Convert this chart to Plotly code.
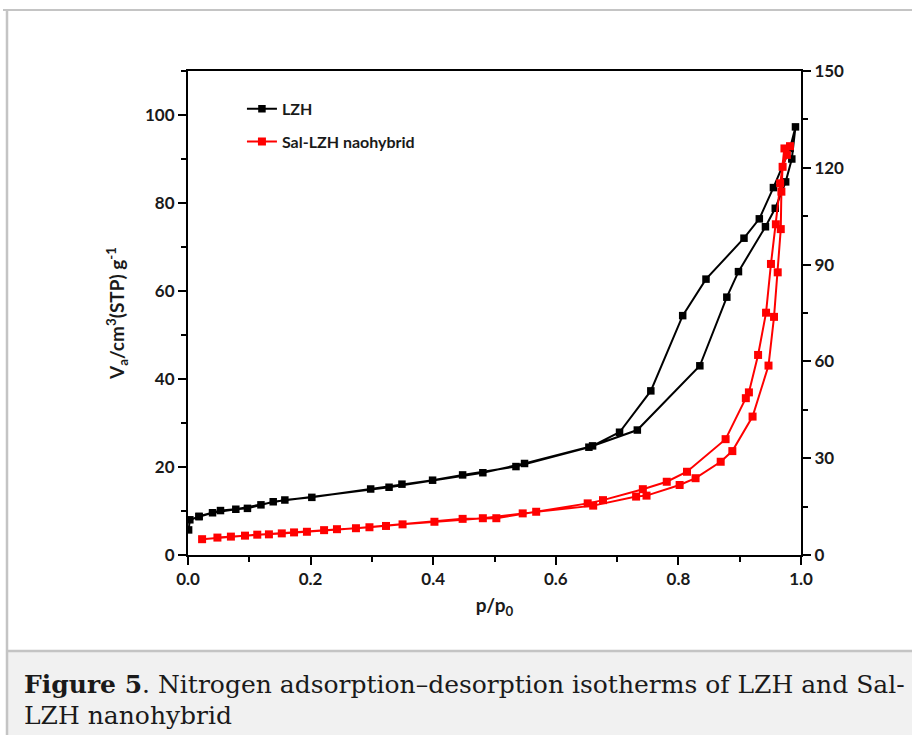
import plotly.graph_objects as go

# ---------------- data ----------------
# LZH (left axis)
lzh_ads_p = [0.001, 0.003, 0.018, 0.040, 0.078, 0.119, 0.158, 0.202, 0.298, 0.349,
             0.399, 0.448, 0.535, 0.654, 0.733, 0.835, 0.879, 0.898, 0.942, 0.958,
             0.975, 0.985, 0.991]
lzh_ads_v = [5.7, 8.0, 8.7, 9.6, 10.4, 11.4, 12.5, 13.1, 15.0, 16.1,
             17.0, 18.2, 20.1, 24.5, 28.4, 43.0, 58.6, 64.4, 74.6, 78.8,
             84.8, 90.0, 97.3]
lzh_des_p = [0.982, 0.955, 0.932, 0.907, 0.845, 0.807, 0.755, 0.704, 0.660, 0.549,
             0.481, 0.328, 0.139, 0.097, 0.053, 0.018]
lzh_des_v = [92.4, 83.5, 76.4, 72.0, 62.7, 54.4, 37.3, 27.9, 24.8, 20.8,
             18.7, 15.4, 12.1, 10.6, 10.1, 8.8]

# Sal-LZH nanohybrid (right axis)
sal_ads_p = [0.023, 0.070, 0.113, 0.153, 0.194, 0.243, 0.296, 0.350, 0.402, 0.481,
             0.546, 0.661, 0.731, 0.748, 0.802, 0.828, 0.869, 0.888, 0.921, 0.947,
             0.956, 0.962, 0.967, 0.968, 0.970, 0.977, 0.982]
sal_ads_v = [4.9, 5.7, 6.3, 6.7, 7.2, 8.0, 8.6, 9.5, 10.3, 11.4,
             12.9, 15.3, 18.1, 18.4, 21.7, 23.8, 28.9, 32.2, 42.9, 58.7,
             73.8, 87.6, 101.0, 112.6, 120.3, 124.0, 126.7]
sal_des_p = [0.973, 0.966, 0.959, 0.951, 0.943, 0.930, 0.915, 0.910, 0.877, 0.814,
             0.781, 0.742, 0.677, 0.652, 0.568, 0.503, 0.448, 0.323, 0.274, 0.222,
             0.173, 0.132, 0.093, 0.048]
sal_des_v = [126.0, 115.2, 102.5, 90.2, 75.1, 62.0, 50.4, 48.6, 35.9, 25.8,
             22.7, 20.4, 17.0, 16.0, 13.4, 11.4, 11.2, 9.0, 8.3, 7.7,
             7.0, 6.4, 6.0, 5.4]

series_names = ["LZH", "Sal-LZH naohybrid"]
x_ticks = [0.0, 0.2, 0.4, 0.6, 0.8, 1.0]
caption_bold = "Figure 5"
caption_line1 = ". Nitrogen adsorption–desorption isotherms of LZH and Sal-"
caption_line2 = "LZH nanohybrid"

# ---------------- layout geometry ----------------
W, H = 912, 735
L, R, T, B = 188, 801, 71, 555  # plot area in pixels


def px(xp):
    return (xp - L) / (R - L)


def py(yp):
    return (B - yp) / (B - T)


fig = go.Figure()
fig.add_trace(go.Scatter(
    x=lzh_ads_p + lzh_des_p, y=lzh_ads_v + lzh_des_v,
    mode="lines+markers", name=series_names[0],
    line=dict(color="#000000", width=2),
    marker=dict(symbol="square", size=7.5, color="#000000"),
    legendgroup="a", yaxis="y"))
fig.add_trace(go.Scatter(
    x=sal_ads_p + sal_des_p, y=sal_ads_v + sal_des_v,
    mode="lines+markers", name=series_names[1],
    line=dict(color="#ff0000", width=2),
    marker=dict(symbol="square", size=8, color="#ff0000"),
    legendgroup="b", yaxis="y2"))

tick_font = dict(family="Lato", size=17, color="#1a1a1a", weight="bold")
title_font = dict(family="Lato", size=19, color="#1a1a1a", weight="bold")

fig.update_layout(
    width=W, height=H,
    margin=dict(l=L, r=W - R, t=T, b=H - B, pad=0),
    paper_bgcolor="white", plot_bgcolor="white",
    showlegend=True,
    legend=dict(x=0.088, y=0.957, xanchor="left", yanchor="top",
                bgcolor="rgba(0,0,0,0)", borderwidth=0,
                font=dict(family="Lato", size=16, color="#1a1a1a", weight="bold"),
                traceorder="grouped", tracegroupgap=9, itemwidth=30),
    xaxis=dict(range=[0, 1.0], tickvals=x_ticks, tickformat=".1f",
               showline=True, linewidth=2, linecolor="black", mirror=True,
               ticks="outside", ticklen=8, tickwidth=2, tickcolor="black",
               minor=dict(ticks="outside", ticklen=5, tickwidth=2, dtick=0.1, tickcolor="black"),
               showgrid=False, zeroline=False, tickfont=tick_font,
               title=dict(text="p/p<sub>0</sub>", font=title_font, standoff=10)),
    yaxis=dict(range=[0, 110], dtick=20,
               showline=True, linewidth=2, linecolor="black",
               ticks="outside", ticklen=8, tickwidth=2, tickcolor="black",
               minor=dict(ticks="outside", ticklen=5, tickwidth=2, dtick=10, tickcolor="black"),
               showgrid=False, zeroline=False, tickfont=tick_font,
               title=dict(text="V<sub>a</sub>/cm<sup>3</sup>(STP) g<sup>-1</sup>",
                          font=title_font, standoff=15)),
    yaxis2=dict(range=[0, 150], dtick=30, overlaying="y", side="right",
                showline=True, linewidth=2, linecolor="black",
                ticks="outside", ticklen=8, tickwidth=2, tickcolor="black",
                minor=dict(ticks="outside", ticklen=5, tickwidth=2, dtick=15, tickcolor="black"),
                showgrid=False, zeroline=False, tickfont=tick_font),
)

# frame and caption box
border = "#c4c4c4"
fig.add_shape(type="rect", xref="paper", yref="paper",
              x0=px(7), x1=px(W + 5), y0=py(651), y1=py(H + 5),
              fillcolor="#f1f1f1", line=dict(width=0), layer="below")
fig.add_shape(type="line", xref="paper", yref="paper",
              x0=px(7), x1=px(W + 5), y0=py(651), y1=py(651),
              line=dict(color=border, width=2.5))
fig.add_shape(type="line", xref="paper", yref="paper",
              x0=px(3), x1=px(W + 5), y0=py(10), y1=py(10),
              line=dict(color=border, width=2))
fig.add_shape(type="line", xref="paper", yref="paper",
              x0=px(7), x1=px(7), y0=py(10), y1=py(H + 5),
              line=dict(color=border, width=2.5))

cap_font = dict(family="DejaVu Serif", size=25, color="#1a1a1a")
fig.add_annotation(xref="paper", yref="paper", x=px(22), y=py(684),
                   xanchor="left", yanchor="middle", showarrow=False,
                   text="<b>" + caption_bold + "</b>" + caption_line1, font=cap_font)
fig.add_annotation(xref="paper", yref="paper", x=px(22), y=py(715),
                   xanchor="left", yanchor="middle", showarrow=False,
                   text=caption_line2, font=cap_font)

fig.write_html("out.html")
